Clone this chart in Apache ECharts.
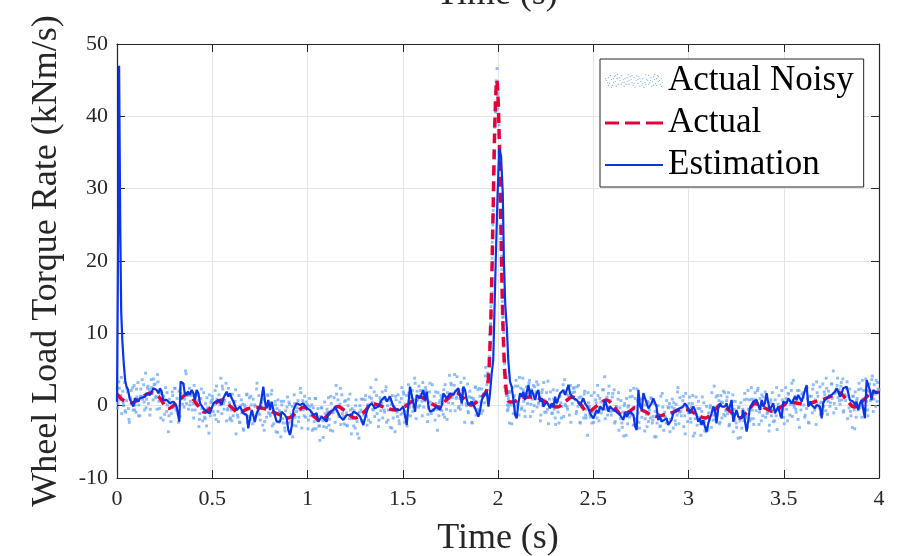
<!DOCTYPE html>
<html><head><meta charset="utf-8">
<script src="https://cdn.jsdelivr.net/npm/echarts@6.0.0/dist/echarts.min.js"></script>
<style>html,body{margin:0;padding:0;background:#fff}#c{width:899px;height:556px}</style>
</head><body><div id="c"></div>
<script>
// ---------------- data ----------------
const xMin = 0, xMax = 4, xStep = 0.5;
const yMin = -10, yMax = 50, yStep = 10;
const seriesNames = ['Actual Noisy', 'Actual', 'Estimation'];
const xTitle = 'Time (s)';
const yTitle = 'Wheel Load Torque Rate (kNm/s)';

// Actual (red dashed) : [time, value]
const actual = [
[0,1.6],[0.04,0.6],[0.08,0.4],[0.12,1.0],[0.18,1.8],[0.22,1.2],[0.27,-0.4],[0.32,0.6],[0.37,1.6],[0.42,0.2],
[0.46,-0.9],[0.51,0.2],[0.55,0.8],[0.60,-0.2],[0.64,-1.0],[0.68,-0.5],[0.72,-0.2],[0.77,-0.4],[0.82,-0.9],[0.86,-1.3],
[0.90,-1.7],[0.94,-1.0],[0.98,-0.2],[1.03,-1.4],[1.07,-2.1],[1.11,-1.2],[1.16,-0.1],[1.20,-0.8],[1.25,-1.7],[1.30,-0.8],
[1.34,0.3],[1.38,0.0],[1.42,-0.4],[1.46,-0.6],[1.50,-0.3],[1.55,0.6],[1.59,1.2],[1.64,0.5],[1.69,-0.2],[1.73,0.8],
[1.78,1.8],[1.82,1.0],[1.86,0.1],[1.90,0.8],[1.93,1.6],[1.944,2.5],[1.954,5.8],[1.964,13.5],[1.974,26.5],[1.984,39.5],
[1.994,45],[2.004,39.5],[2.014,26.3],[2.024,13.2],[2.034,5.4],[2.044,2.0],[2.055,0.6],[2.08,0.5],[2.12,1.1],[2.19,1.2],
[2.25,0.5],[2.31,-0.2],[2.35,0.5],[2.39,1.2],[2.43,0.3],[2.47,-0.9],[2.52,0.0],[2.57,0.8],[2.61,-0.2],[2.65,-1.3],
[2.69,-0.8],[2.72,-0.3],[2.77,-0.8],[2.83,-1.5],[2.88,-1.2],[2.92,-0.9],[2.96,-0.5],[3.00,-0.6],[3.04,-1.2],[3.09,-1.7],
[3.13,-0.8],[3.17,0.1],[3.22,-0.8],[3.27,-1.7],[3.31,-0.8],[3.35,0.3],[3.40,-0.3],[3.44,-0.8],[3.49,-0.1],[3.53,0.5],
[3.58,0.3],[3.62,0.2],[3.66,0.5],[3.71,0.9],[3.75,1.3],[3.79,1.8],[3.83,0.8],[3.87,-0.2],[3.92,0.8],[3.97,1.9],[4.00,1.8]
];

// Estimation (blue) : [time, value]
const estimation = [
[0,0.5],[0.005,20],[0.011,47],[0.017,25],[0.022,13],[0.028,9],[0.035,6],[0.043,3.5],[0.05,2.6],[0.058,2.2],[0.066,1.0],
[0.086,-0.13],[0.094,1.02],[0.112,0.56],[0.121,1.02],[0.147,1.25],[0.156,1.71],[0.173,1.48],[0.191,2.4],[0.199,2.63],
[0.208,2.17],[0.217,1.71],[0.226,2.4],[0.234,1.94],[0.243,0.79],[0.252,0.56],[0.261,0.79],[0.278,0.33],[0.296,0.56],
[0.313,-0.13],[0.327,-2.21],[0.334,3.32],[0.348,3.09],[0.357,1.48],[0.366,1.71],[0.374,1.94],[0.383,1.48],[0.392,2.17],
[0.401,1.71],[0.409,0.79],[0.418,2.17],[0.427,1.71],[0.436,0.33],[0.453,-0.37],[0.471,-0.83],[0.488,-1.06],[0.506,0.33],
[0.514,0.56],[0.532,0.79],[0.549,0.1],[0.558,1.02],[0.576,1.94],[0.584,1.25],[0.593,1.71],[0.602,1.02],[0.611,0.56],
[0.628,-0.6],[0.646,-0.13],[0.663,-1.06],[0.681,-1.29],[0.689,-3.13],[0.698,-1.75],[0.707,-0.6],[0.724,-2.21],[0.733,-1.06],
[0.751,-0.13],[0.759,1.02],[0.768,2.63],[0.777,0.56],[0.786,-0.37],[0.794,0.79],[0.803,-0.6],[0.812,0.56],[0.821,-0.6],
[0.838,-2.21],[0.856,-2.21],[0.864,-0.83],[0.873,-0.6],[0.882,-1.29],[0.891,-1.75],[0.899,-3.36],[0.908,-4.05],[0.917,-2.9],
[0.926,-0.6],[0.934,-0.13],[0.943,0.33],[0.961,0.1],[0.978,0.33],[0.996,-0.37],[1.013,-0.6],[1.031,-1.29],[1.048,-1.06],
[1.057,-2.21],[1.074,-1.52],[1.083,-1.75],[1.101,-2.21],[1.109,-1.06],[1.118,-0.83],[1.136,-0.6],[1.144,-0.13],[1.153,-0.6],
[1.171,-1.52],[1.188,-1.98],[1.206,-1.29],[1.214,-1.52],[1.232,-1.29],[1.241,-0.83],[1.258,-1.06],[1.276,-1.52],[1.293,-2.67],
[1.302,-1.75],[1.311,-0.83],[1.319,-0.13],[1.337,0.33],[1.354,-0.37],[1.372,-0.13],[1.389,0.79],[1.407,1.25],[1.416,0.56],
[1.433,1.25],[1.451,-0.13],[1.468,-0.6],[1.486,-0.6],[1.503,-0.13],[1.521,-2.67],[1.53,0.33],[1.538,2.63],[1.547,2.86],
[1.556,0.33],[1.565,-0.83],[1.573,1.48],[1.582,1.71],[1.591,1.02],[1.6,1.25],[1.608,2.17],[1.617,0.79],[1.626,1.94],
[1.635,-0.13],[1.643,-0.83],[1.661,-0.6],[1.678,-0.13],[1.696,-0.6],[1.705,0.1],[1.713,1.71],[1.731,1.02],[1.748,1.71],
[1.757,1.94],[1.766,1.48],[1.775,1.94],[1.792,2.4],[1.801,2.17],[1.81,0.33],[1.818,2.63],[1.827,2.17],[1.836,0.79],
[1.845,0.1],[1.853,-0.13],[1.862,0.56],[1.871,0.79],[1.88,-0.37],[1.897,-1.52],[1.906,-0.6],[1.915,0.79],[1.923,1.25],
[1.932,1.02],[1.941,1.94],[1.95,-0.13],[1.958,1.71],[1.967,4.48],[1.975,6.3],[1.988,20],[1.998,29.4],[2.006,35.5],
[2.011,35.7],[2.016,34.5],[2.025,29.4],[2.031,20],[2.038,14],[2.046,10.9],[2.054,6.3],[2.063,3.32],[2.072,2.63],
[2.081,0.79],[2.09,-1.29],[2.098,-1.75],[2.107,0.33],[2.116,1.71],[2.125,1.25],[2.133,1.94],[2.142,0.79],[2.151,1.94],
[2.16,2.86],[2.168,1.25],[2.177,2.17],[2.186,1.94],[2.195,0.79],[2.203,1.71],[2.212,2.17],[2.221,0.56],[2.23,1.02],
[2.238,-0.13],[2.256,0.56],[2.265,0.33],[2.273,-0.37],[2.282,0.33],[2.291,-0.13],[2.3,1.25],[2.308,0.33],[2.326,1.71],
[2.343,2.17],[2.352,1.48],[2.37,2.86],[2.378,1.71],[2.396,1.02],[2.405,1.25],[2.413,0.79],[2.431,0.1],[2.448,1.02],
[2.457,0.33],[2.475,-0.37],[2.483,-1.06],[2.501,-1.75],[2.518,-0.6],[2.527,-1.06],[2.536,-0.13],[2.553,-0.6],[2.562,0.79],
[2.58,-0.83],[2.588,-0.13],[2.606,-0.6],[2.623,-0.83],[2.632,-0.6],[2.641,-1.29],[2.658,-1.98],[2.667,-0.83],[2.676,-1.52],
[2.693,-0.83],[2.711,-1.29],[2.72,-2.9],[2.728,-3.36],[2.737,2.17],[2.746,-0.13],[2.755,-0.6],[2.763,1.71],[2.781,0.33],
[2.79,-0.37],[2.798,-0.13],[2.806,0.33],[2.815,1.02],[2.824,0.79],[2.832,-0.13],[2.841,-1.98],[2.85,-1.52],[2.859,-2.21],
[2.867,-1.98],[2.885,-1.75],[2.894,-2.67],[2.902,-2.9],[2.911,-1.98],[2.92,-1.06],[2.929,-1.29],[2.937,-0.6],[2.946,-0.83],
[2.955,-0.37],[2.964,-0.6],[2.972,-0.13],[2.981,0.33],[2.99,0.56],[2.999,-0.37],[3.007,-1.06],[3.016,-0.6],[3.025,-0.13],
[3.034,-0.6],[3.042,-1.29],[3.051,-2.21],[3.06,-1.75],[3.069,-2.67],[3.077,-1.98],[3.086,-2.9],[3.095,-3.59],[3.104,-2.44],
[3.112,-1.75],[3.121,-1.06],[3.13,-0.13],[3.139,-0.6],[3.147,-2.44],[3.156,-0.37],[3.165,0.33],[3.174,-0.13],[3.182,0.1],
[3.191,-0.13],[3.2,0.33],[3.209,-0.6],[3.217,-0.13],[3.226,0.79],[3.235,-2.21],[3.244,-1.29],[3.252,-0.6],[3.261,-1.52],
[3.279,-1.75],[3.287,-0.6],[3.296,-0.37],[3.305,-3.59],[3.314,-1.98],[3.322,-0.37],[3.34,0.56],[3.357,0.79],[3.366,0.56],
[3.375,-0.6],[3.384,0.79],[3.392,-0.13],[3.401,0.33],[3.41,1.71],[3.419,0.33],[3.427,-0.6],[3.436,-0.37],[3.445,0.33],
[3.454,-1.06],[3.462,-0.6],[3.471,-0.13],[3.48,-1.06],[3.489,-1.75],[3.497,0.56],[3.515,0.33],[3.524,1.02],[3.532,0.79],
[3.541,0.33],[3.55,0.56],[3.559,1.25],[3.567,0.79],[3.576,1.48],[3.585,1.02],[3.594,0.56],[3.602,0.33],[3.62,2.86],
[3.629,-0.13],[3.637,0.56],[3.646,0.1],[3.655,0.33],[3.664,-0.37],[3.672,0.1],[3.69,-0.13],[3.699,-1.75],[3.707,0.33],
[3.716,0.79],[3.725,0.56],[3.734,1.25],[3.751,1.48],[3.769,1.94],[3.777,2.4],[3.786,1.94],[3.795,1.25],[3.804,1.71],
[3.812,2.4],[3.83,2.63],[3.839,1.71],[3.847,0.79],[3.865,0.56],[3.874,0.1],[3.882,0.56],[3.891,-0.6],[3.9,0.33],
[3.909,0.79],[3.926,-1.75],[3.935,3.55],[3.944,3.78],[3.952,2.17],[3.961,0.79],[3.97,2.17],[3.979,1.94],[3.987,1.71],[3.996,1.94]
];

// Actual Noisy (light blue dots) : values sampled every noisyStep seconds from t = 0
const noisyStep = 0.005;
const noisy = [
2.4,0.3,3.3,0.8,1.4,-1.1,2.0,0.0,3.2,-0.9,0.7,1.9,-0.4,-2.3,1.1,2.1,0.2,-0.6,2.8,0.1,
-0.9,1.2,3.2,0.1,-1.4,2.3,1.3,0.9,2.9,-0.6,4.5,0.9,2.4,0.3,2.2,-0.5,3.6,1.7,0.8,2.9,
3.0,1.3,-0.5,3.3,0.6,1.7,-1.7,1.7,0.4,1.3,-1.2,2.5,-0.8,0.1,-3.6,0.9,0.4,-1.1,1.9,-0.3,
-0.1,2.4,-0.6,1.0,-1.1,2.0,-1.5,1.7,1.2,0.2,2.9,0.9,4.8,0.3,1.7,-0.5,2.4,0.6,1.4,-0.6,
0.3,2.8,-0.6,0.1,1.9,0.7,-2.9,-1.1,1.0,-0.4,-2.1,1.8,-1.6,0.3,-2.8,-0.3,-0.9,1.5,-1.4,0.7,
1.3,-0.8,0.2,2.1,-1.9,0.9,-0.8,1.5,0.1,3.8,-1.1,2.3,0.3,0.7,1.6,-2.1,-0.6,2.4,0.4,-1.7,
-0.6,1.6,-1.4,0.1,0.6,-3.9,-0.5,-1.6,1.4,-2.3,0.0,-1.0,0.2,-3.4,0.1,-1.2,1.5,-2.3,-0.5,1.1,
-1.9,0.1,-0.9,0.9,-2.2,-0.1,-1.4,3.1,-0.7,1.4,-1.2,-0.1,0.4,-2.7,0.9,-2.2,0.0,-1.6,1.5,-1.0,
0.4,-1.4,1.6,-2.8,-0.5,-1.2,0.6,-3.6,-0.4,0.8,-2.3,-1.0,-4.3,0.1,-1.8,0.6,-3.1,-0.7,-2.4,1.2,
-2.4,0.2,-3.7,-1.2,-0.1,-2.7,1.5,-1.6,-2.8,-0.3,0.7,-1.6,-0.6,1.8,-3.1,0.7,-0.5,1.3,-1.6,-0.1,
0.1,-2.0,1.0,-1.4,-0.9,-3.4,-0.3,-2.2,1.0,-3.2,-1.6,-0.4,-2.8,-4.8,-1.5,-0.3,-2.1,-2.9,0.5,-2.0,
-3.0,-0.9,1.1,-1.9,-3.4,0.3,-0.6,-1.0,1.1,-2.3,2.8,-0.8,0.8,-1.5,0.2,-2.6,1.5,-0.5,-1.5,0.6,
0.7,-1.0,-2.8,0.9,-1.8,-0.6,-3.9,-0.4,-1.7,-0.7,-3.1,0.8,-2.2,-1.1,-4.5,0.0,-0.6,-2.1,0.9,-1.3,
-1.1,1.4,-1.5,0.1,-2.0,1.2,-2.3,1.0,0.5,-0.6,1.9,-0.2,3.6,-1.1,0.2,-2.0,1.1,-0.7,0.3,-1.7,
0.9,-0.9,2.1,-2.3,0.0,-0.6,1.2,-3.0,0.2,1.4,-1.7,-0.3,-3.6,0.8,-0.9,1.5,-2.1,0.5,-1.2,2.5,
-1.0,1.6,-2.3,0.2,1.4,-1.3,2.9,-0.2,-1.4,1.1,2.1,-0.2,0.8,3.1,-1.8,2.0,0.8,2.7,0.0,1.6,
0.6,3.2,-0.2,0.7,2.5,1.3,-2.2,-0.3,1.9,0.5,-1.1,2.9,-0.5,1.3,-2.0,0.3,-0.5,1.8,-1.4,0.7,
1.4,-0.7,0.3,2.2,-1.6,1.2,-0.5,1.8,0.4,4.2,-0.7,2.9,1.1,1.7,2.8,-0.7,1.0,4.0,2.0,-0.1,
1.0,3.2,0.2,1.7,2.2,-2.3,1.1,0.0,3.0,-1.0,1.2,0.0,1.1,-2.4,1.0,-0.2,2.5,-1.3,0.5,2.2,
-0.7,1.3,0.5,2.3,-0.7,1.6,0.4,5.3,1.8,4.5,3.6,6.8,11.2,12.5,22.6,26.1,34.8,39.1,44.9,44.7,
42.8,37.6,34.0,23.1,18.8,12.2,10.1,2.6,4.1,3.8,0.1,0.9,-2.4,2.0,0.1,2.5,-1.1,1.4,-0.2,3.5,
0.1,2.7,-1.3,1.2,2.4,-0.3,3.8,0.6,-0.7,1.7,2.6,0.3,1.2,3.5,-1.5,2.2,0.9,2.8,0.0,1.6,
1.9,-0.2,2.9,0.5,1.2,-1.3,1.8,0.0,3.2,-0.9,0.6,1.8,-0.5,-2.5,0.9,1.9,-0.1,-1.0,2.2,-0.5,
-1.7,0.3,2.1,-0.9,-2.4,1.3,0.4,-0.1,1.9,-1.5,3.6,0.0,1.6,-0.5,1.4,-1.3,2.8,1.1,0.3,2.4,
2.5,0.8,-1.1,2.6,-0.1,1.1,-2.3,1.2,-0.2,0.8,-1.7,2.0,-1.3,-0.5,-4.1,0.4,-0.1,-1.6,1.4,-0.9,
-0.7,1.8,-1.2,0.4,-1.7,1.4,-2.1,1.0,0.5,-0.5,2.2,0.2,4.0,-0.5,0.9,-1.3,1.7,-0.2,0.7,-1.3,
1.2,-0.7,2.2,-2.2,-0.1,-0.8,0.9,-3.4,-0.3,0.7,-2.4,-0.9,-4.2,0.3,-1.5,1.0,-2.5,0.0,-1.6,2.1,
-1.3,1.3,-2.7,-0.2,1.0,-1.8,2.3,-1.0,-2.3,0.1,0.9,-1.6,-0.7,1.6,-3.5,0.1,-1.2,0.6,-2.2,-0.6,
-1.7,1.0,-2.4,-1.5,0.3,-0.8,-4.3,-2.4,0.0,-1.3,-2.9,1.3,-2.0,-0.2,-3.4,-0.9,-1.6,0.7,-2.3,-0.3,
0.3,-1.9,-1.0,0.9,-3.1,-0.4,-2.1,0.2,-1.3,2.5,-2.5,1.1,-0.8,-0.3,0.7,-2.9,-1.4,1.7,-0.2,-2.2,
-1.0,1.2,-1.8,-0.2,0.3,-4.2,-0.8,-1.8,1.2,-2.7,-0.4,-1.6,-0.4,-4.1,-0.8,-2.2,0.4,-3.5,-1.8,-0.1,
-3.0,-1.0,-1.9,0.0,-3.0,-0.8,-2.0,2.7,-1.0,1.2,-1.3,0.0,0.7,-2.3,1.4,-1.7,0.4,-1.2,1.8,-0.7,
0.7,-1.1,1.8,-2.6,-0.4,-1.1,0.6,-3.6,-0.5,0.6,-2.4,-1.1,-4.5,-0.2,-2.1,0.4,-3.1,-0.5,-2.1,1.7,
-1.7,0.9,-3.0,-0.5,0.8,-1.8,2.5,-0.6,-1.8,0.8,1.8,-0.7,0.2,2.4,-2.6,1.0,-0.4,1.5,-1.4,0.3,
0.5,-1.6,1.5,-0.9,-0.3,-2.7,0.4,-1.4,1.8,-2.2,-0.6,0.8,-1.4,-3.3,0.2,1.4,-0.4,-1.3,2.1,-0.5,
-1.6,0.5,2.5,-0.5,-2.1,1.6,0.7,0.2,2.1,-1.5,3.5,-0.2,1.3,-0.9,0.8,-1.9,2.1,0.3,-0.6,1.6,
1.8,0.1,-1.6,2.2,-0.4,0.9,-2.3,1.3,0.2,1.3,-1.0,2.9,-0.2,0.8,-2.6,1.8,1.3,-0.3,2.6,0.4,
0.5,3.0,-0.1,1.5,-0.7,2.4,-1.2,2.0,1.4,0.4,3.0,1.0,4.8,0.3,1.7,-0.4,2.8,1.1,2.2,0.2,
2.7,0.8,3.7,-0.7,1.5,0.7,2.4,-1.8,1.3,2.3,-0.8,0.5,-3.0,1.3,-0.6,1.9,-1.6,1.0,-0.6,3.1,
-0.3,2.3,-1.6,0.9,2.1,-0.5,3.7,0.6,-0.6,2.0,3.0,0.7,1.7,4.1,-0.8,2.9,1.6,3.5,0.6,2.3,
2.2
];
// second set of noisy samples, every noisy2Step seconds from noisy2Start (null = inside spike, see spikeNoisy)
const noisy2Start = 0.0025, noisy2Step = 0.01;
const noisy2 = [
-0.3,2.4,3.9,0.4,-0.7,2.3,-1.9,0.9,2.5,-0.6,
2.3,-1.4,1.3,3.6,0.5,-0.3,2.7,-1.3,2.5,3.7,
1.1,4.3,-0.4,2.0,-2.0,0.7,1.8,-1.4,-2.2,1.4,
2.4,-0.3,-2.3,2.3,1.2,-0.2,4.4,1.4,0.1,1.9,
-1.7,1.3,1.5,-1.9,2.3,-0.9,-1.8,1.1,-3.8,0.4,
0.9,-1.3,2.7,-2.2,0.7,2.7,-0.5,3.1,-0.4,-1.9,
-2.1,0.6,2.2,-1.3,-2.3,0.8,-3.2,-0.2,1.6,-1.5,
1.3,-2.5,0.1,2.3,-1.1,-2.0,0.8,-3.4,0.2,1.4,
-1.1,2.1,-2.5,0.1,-3.7,-0.7,0.6,-2.4,-3.5,-0.2,
0.5,-2.2,-4.3,0.3,-0.8,-2.2,2.4,-0.6,-1.4,0.5,
-3.2,-0.1,0.1,-3.2,1.0,-2.1,-2.8,-0.3,-4.4,-1.1,
-0.5,-2.7,1.3,-3.5,-0.5,1.6,-1.2,2.4,-1.1,-2.5,
-2.7,0.0,1.6,-1.8,-2.8,0.0,-3.9,-0.9,0.9,-2.1,
0.8,-2.7,0.1,2.5,-0.5,-1.5,1.4,-2.9,0.7,1.9,
-0.6,2.6,-2.0,0.7,-3.1,-0.1,1.3,-1.5,-2.5,1.0,
1.9,-0.8,-2.8,1.7,0.6,-0.8,3.8,0.7,-0.2,2.1,
-1.4,1.7,2.1,-1.2,3.1,0.1,-0.7,1.9,-3.4,0.4,
1.0,-1.2,2.9,-1.9,1.0,3.1,0.3,4.3,1.2,-0.3,
-0.5,2.2,3.8,0.3,-0.8,2.0,-2.3,0.7,2.6,-0.5,
2.4,-1.1,1.6,4.1,1.4,null,null,null,null,null,
null,null,null,null,null,-0.5,1.8,-2.5,1.2,2.7,
0.4,3.9,-0.5,2.2,-1.5,1.6,3.1,0.2,-0.8,2.6,
3.3,0.3,-2.1,2.2,0.8,-0.9,3.4,0.1,-1.1,0.9,
-2.6,0.6,1.3,-1.7,2.9,0.2,-0.2,2.7,-2.3,1.8,
1.9,-0.8,2.8,-2.4,0.0,1.6,-1.7,1.8,-1.3,-2.4,
-2.3,0.8,2.8,-0.3,-1.0,2.2,-1.8,1.2,2.7,-0.8,
1.7,-2.4,-0.2,1.8,-1.8,-3.0,0.0,-4.1,-0.2,1.2,
-1.0,2.4,-1.9,0.7,-3.1,-0.1,1.2,-1.8,-2.9,0.4,
1.1,-2.0,-4.3,0.0,-1.2,-2.8,1.7,-1.5,-2.4,-0.2,
-3.6,-0.2,0.4,-2.6,1.9,-0.9,-1.4,1.3,-3.9,0.0,
0.3,-2.3,1.4,-3.8,-1.2,0.6,-2.5,1.2,-2.2,-3.6,
-3.4,-0.3,1.8,-1.3,-1.9,1.4,-2.5,0.5,2.0,-1.4,
1.2,-2.8,-0.5,1.5,-2.0,-3.0,-0.3,-4.4,-0.8,0.8,
-1.4,2.1,-2.1,0.9,-2.6,0.8,2.1,-0.9,-2.1,1.2,
1.9,-1.1,-3.5,0.8,-0.6,-2.1,2.5,-0.6,-1.4,0.8,
-2.5,1.0,1.7,-1.3,3.1,0.1,-0.5,2.1,-3.0,0.9,
1.2,-1.3,2.5,-2.4,0.4,2.3,-0.6,3.3,0.1,-1.2,
-1.1,1.9,3.8,0.6,-0.1,3.0,-1.0,2.0,3.8,0.7,
3.2,-0.9,1.4,3.3,-0.3,-1.4,1.3,-3.2,0.7,2.2,
0.0,3.5,-0.8,2.1,-1.4,2.0,3.6,0.9,-0.1,3.2
];
// extra noisy samples along the spike, every spikeStep seconds from spikeStart
const spikeStart = 1.941, spikeStep = 0.002;
const spikeNoisy = [
2.9,1.5,4.1,3.2,4.4,3.4,6.4,6.1,9.8,8.7,11.3,13.7,14.2,15.6,20.4,23.8,25.0,27.0,31.9,32.6,
34.5,38.5,41.7,40.6,40.7,44.2,44.7,46.6,44.5,41.0,43.2,39.7,38.8,34.6,33.2,28.8,28.8,25.0,21.8,20.7,
18.1,14.4,11.2,12.3,8.9,8.2,4.5,5.8,4.3,4.3,2.1,3.9,1.4,1.8,-0.7,1.9,1.3,-0.1,1.9,0.3
];

// ---------------- build ----------------
const toPts = (arr, t0, dt) => arr.map((v, i) => [+(t0 + i * dt).toFixed(4), v]).filter(p => p[1] !== null);
const noisyPts = toPts(noisy, 0, noisyStep)
  .concat(toPts(noisy2, noisy2Start, noisy2Step))
  .concat(toPts(spikeNoisy, spikeStart, spikeStep));

const FONT = '"Liberation Serif", "Times New Roman", serif';
const AX = '#262626';
const noisyIcon = 'path://' + [
 [1,9],[3,6],[4,12],[6,8],[7,14],[9,5],[10,10],[12,7],[13,13],[15,9],[16,4],[17,11],[19,15],[20,7],[22,10],[23,3],[24,13],
 [26,8],[27,11],[29,6],[30,16],[31,9],[33,12],[34,5],[36,10],[37,14],[38,7],[40,11],[41,3],[43,9],[44,13],[46,6],[47,15],
 [48,10],[50,8],[51,12],[53,4],[54,10],[56,13],[57,7],[2,11],[5,4],[8,11],[11,15],[14,6],[18,8],[21,13],[25,5],[28,14],
 [32,4],[35,7],[39,16],[42,8],[45,11],[49,5],[52,14],[55,9],[0,7],[58,11],[3,14],[12,3],[19,11],[27,4],[35,15],[44,4],[52,7],[57,15],
 [8,7],[16,13],[24,9],[33,8],[41,13],[49,14],[10,4],[29,12],[46,9],[54,5],[6,16],[22,6],[38,12],[50,3]
].map(p => 'M' + p[0] + ',' + p[1] + 'h1.2v1.2h-1.2Z').join(' ');
const dashIcon = 'path://M0,0h14v3h-14Z M20,0h15v3h-15Z M41,0h17v3h-17Z';
const solidIcon = 'path://M0,0h58v2h-58Z';

const chart = echarts.init(document.getElementById('c'), null, {renderer: 'canvas'});
chart.setOption({
  animation: false,
  backgroundColor: '#fff',
  grid: {left: 117, right: 20, top: 44, bottom: 78, containLabel: false, outerBoundsMode: 'none', show: false},
  graphic: [{
    type: 'text', x: 497, y: 13, silent: true,
    style: {text: xTitle, fontFamily: FONT, fontSize: 36, fill: AX, align: 'center', verticalAlign: 'bottom'}
  }],
  legend: {
    orient: 'vertical', left: 600, top: 59,
    itemWidth: 58, itemHeight: 18, itemGap: 6, itemTextGap: 6,
    padding: [4, 10, 4, 5],
    backgroundColor: '#fff', borderColor: AX, borderWidth: 1, borderRadius: 0,
    selectedMode: false,
    itemStyle: {borderWidth: 0},
    textStyle: {fontFamily: FONT, fontSize: 35, color: '#000', lineHeight: 36},
    data: [{name: seriesNames[0], icon: noisyIcon}, {name: seriesNames[1], icon: dashIcon}, {name: seriesNames[2], icon: solidIcon}]
  },
  xAxis: [{
    type: 'value', min: xMin, max: xMax, interval: xStep, position: 'bottom',
    name: xTitle, nameLocation: 'middle', nameGap: 43,
    nameTextStyle: {fontFamily: FONT, fontSize: 36, color: AX},
    axisLine: {onZero: false, lineStyle: {color: AX, width: 1.2}},
    axisTick: {inside: true, length: 8, lineStyle: {color: AX, width: 1}},
    axisLabel: {fontFamily: FONT, fontSize: 22, color: AX, margin: 10},
    splitLine: {show: true, lineStyle: {color: '#e4e4e4', width: 1}}
  }, {
    type: 'value', min: xMin, max: xMax, interval: xStep, position: 'top',
    axisLine: {onZero: false, lineStyle: {color: AX, width: 1.2}},
    axisTick: {inside: true, length: 8, lineStyle: {color: AX, width: 1}},
    axisLabel: {show: false}, splitLine: {show: false}
  }],
  yAxis: [{
    type: 'value', min: yMin, max: yMax, interval: yStep, position: 'left',
    name: yTitle, nameLocation: 'middle', nameGap: 52,
    nameTextStyle: {fontFamily: FONT, fontSize: 36, color: AX},
    axisLine: {show: true, onZero: false, lineStyle: {color: AX, width: 1.2}},
    axisTick: {show: true, inside: true, length: 8, lineStyle: {color: AX, width: 1}},
    axisLabel: {fontFamily: FONT, fontSize: 22, color: AX, margin: 9},
    splitLine: {show: true, lineStyle: {color: '#e4e4e4', width: 1}}
  }, {
    type: 'value', min: yMin, max: yMax, interval: yStep, position: 'right',
    axisLine: {show: true, onZero: false, lineStyle: {color: AX, width: 1.2}},
    axisTick: {show: true, inside: true, length: 8, lineStyle: {color: AX, width: 1}},
    axisLabel: {show: false}, splitLine: {show: false}
  }],
  series: [{
    name: seriesNames[0], type: 'scatter', data: noisyPts,
    symbol: 'rect', symbolSize: 2.9, silent: true, z: 2,
    itemStyle: {color: '#6aa6f8', opacity: 0.75}
  }, {
    name: seriesNames[1], type: 'line', data: actual, smooth: 0.35,
    symbol: 'none', showSymbol: false, silent: true, z: 3,
    itemStyle: {color: '#e6003a'},
    lineStyle: {color: '#e6003a', width: 3.5, type: [10, 6]}
  }, {
    name: seriesNames[2], type: 'line', data: estimation,
    symbol: 'none', showSymbol: false, silent: true, z: 4,
    itemStyle: {color: '#0a35e6'},
    lineStyle: {color: '#0a35e6', width: 2.2}
  }]
});
</script>
</body></html>
